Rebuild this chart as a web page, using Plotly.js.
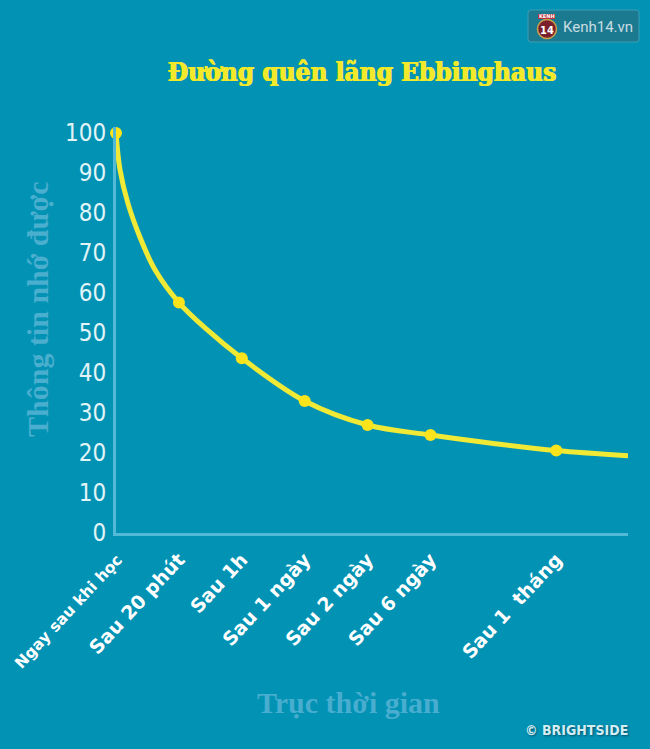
<!DOCTYPE html>
<html>
<head>
<meta charset="utf-8">
<script src="https://cdn.plot.ly/plotly-3.0.1.min.js"></script>
<style>html,body{margin:0;padding:0;background:#0292b4;}</style>
</head>
<body>
<div id="chart" style="width:650px;height:749px;"></div>
<script>
// Marker points (time steps on the x axis, % remembered)
const stepX = [0, 1, 2, 3, 4, 5, 7];
const retention = [100, 57.6, 43.7, 33, 27, 24.5, 20.6];
const tickLabels = [
  '<span style="font-size:15.5px">Ngay sau khi học</span>',
  'Sau 20 phút', 'Sau 1h', 'Sau 1 ngày', 'Sau 2 ngày', 'Sau 6 ngày', 'Sau 1  tháng'
];
// Curve
const curveX = [0, 0.064, 0.19, 0.38, 0.62, 1, 1.42, 2, 3, 4, 5, 6, 7, 8.14];
const curveY = [100, 90.8, 82.4, 74, 65.8, 57.6, 51.2, 43.7, 33, 27, 24.5, 22.4, 20.6, 19.3];
const yTicks = [0, 10, 20, 30, 40, 50, 60, 70, 80, 90, 100];

const titleText = 'Đường quên lãng Ebbinghaus';
const yTitle = 'Thông tin nhớ được';
const xTitle = 'Trục thời gian';

// pixel -> paper helpers (plot area: x 116..628, y 127..533)
const L = 116, R = 628, T = 127, B = 533;
const px = v => (v - L) / (R - L);
const py = v => (B - v) / (B - T);

const bg = '#0292b4';
const traces = [
  {x: curveX, y: curveY, mode: 'lines', type: 'scatter',
   line: {color: '#f0e936', width: 5, shape: 'spline', smoothing: 1},
   hoverinfo: 'skip', showlegend: false},
  {x: stepX, y: retention, mode: 'markers', type: 'scatter',
   marker: {color: '#fbe41c', size: 12}, cliponaxis: false, showlegend: false}
];

function rrect(x0, y0, x1, y1, r) {
  const rx = r / (R - L), ry = r / (B - T);
  const a = px(x0), b = px(x1), top = py(y0), bot = py(y1);
  return `M${a + rx},${top} L${b - rx},${top} Q${b},${top} ${b},${top - ry} L${b},${bot + ry} Q${b},${bot} ${b - rx},${bot} L${a + rx},${bot} Q${a},${bot} ${a},${bot + ry} L${a},${top - ry} Q${a},${top} ${a + rx},${top} Z`;
}

const layout = {
  width: 650, height: 749,
  margin: {l: L, r: 650 - R, t: T, b: 749 - B},
  paper_bgcolor: bg, plot_bgcolor: bg,
  title: {text: titleText, x: 362 / 650, xanchor: 'center', y: 1 - 72 / 749, yanchor: 'middle',
          font: {family: 'DejaVu Serif Condensed, DejaVu Serif, serif', size: 26, color: '#f3e92b', weight: 'bold',
                 shadow: '0.6px 0 0 #f3e92b, -0.6px 0 0 #f3e92b'}},
  xaxis: {range: [0, 8.14], tickvals: stepX, ticktext: tickLabels, tickangle: -47,
          showgrid: false, zeroline: false, showline: true, linecolor: '#52bad6', linewidth: 3,
          ticks: '', ticklabelstandoff: 5, fixedrange: true,
          tickfont: {family: 'DejaVu Sans, sans-serif', size: 19, color: '#ffffff', weight: 'bold'}},
  yaxis: {range: [0, 101.5], tickvals: yTicks,
          showgrid: false, zeroline: false, showline: true, linecolor: '#52bad6', linewidth: 3,
          ticks: '', ticklabelstandoff: 2, fixedrange: true,
          tickfont: {family: 'DejaVu Sans Condensed, sans-serif', size: 24, color: '#e2f4f7'}},
  shapes: [
    {type: 'path', xref: 'paper', yref: 'paper', path: rrect(528, 10, 639, 42, 3),
     fillcolor: '#1c7a90', line: {color: '#3c9db4', width: 1}},
    {type: 'circle', xref: 'paper', yref: 'paper', x0: px(537.5), x1: px(556.5), y0: py(38.5), y1: py(19.5),
     fillcolor: '#7c1f2d', line: {color: '#c8a14c', width: 1.5}},
    {type: 'rect', xref: 'paper', yref: 'paper', x0: px(538), x1: px(555), y0: py(19), y1: py(14),
     fillcolor: '#b5333f', line: {width: 0}}
  ],
  annotations: [
    {text: yTitle, xref: 'paper', yref: 'paper', x: px(37), y: py(310), textangle: -90,
     showarrow: false, xanchor: 'center', yanchor: 'middle',
     font: {family: 'Liberation Serif, serif', size: 30, color: '#4aaecf', weight: 'bold'}},
    {text: xTitle, xref: 'paper', yref: 'paper', x: px(348), y: py(702),
     showarrow: false, xanchor: 'center', yanchor: 'middle',
     font: {family: 'Liberation Serif, serif', size: 30, color: '#48adcf', weight: 'bold'}},
    {text: 'Kenh14.vn', xref: 'paper', yref: 'paper', x: px(597.5), y: py(26.5),
     showarrow: false, xanchor: 'center', yanchor: 'middle',
     font: {family: 'Roboto, sans-serif', size: 15, color: '#c9dce2'}},
    {text: '14', xref: 'paper', yref: 'paper', x: px(547), y: py(30),
     showarrow: false, xanchor: 'center', yanchor: 'middle',
     font: {family: 'DejaVu Sans Condensed, sans-serif', size: 11, color: '#ffffff', weight: 'bold'}},
    {text: 'KENH', xref: 'paper', yref: 'paper', x: px(546.5), y: py(16.5),
     showarrow: false, xanchor: 'center', yanchor: 'middle',
     font: {family: 'DejaVu Sans, sans-serif', size: 5, color: '#ffffff', weight: 'bold'}},
    {text: '© BRIGHTSIDE', xref: 'paper', yref: 'paper', x: px(576.5), y: py(730),
     showarrow: false, xanchor: 'center', yanchor: 'middle',
     font: {family: 'DejaVu Sans Condensed, sans-serif', size: 14, color: '#d3edf4', weight: 'bold',
            shadow: '1px 1px 2px rgba(0,40,60,0.6)'}}
  ]
};

Plotly.newPlot('chart', traces, layout, {displayModeBar: false, staticPlot: true});
</script>
</body>
</html>
